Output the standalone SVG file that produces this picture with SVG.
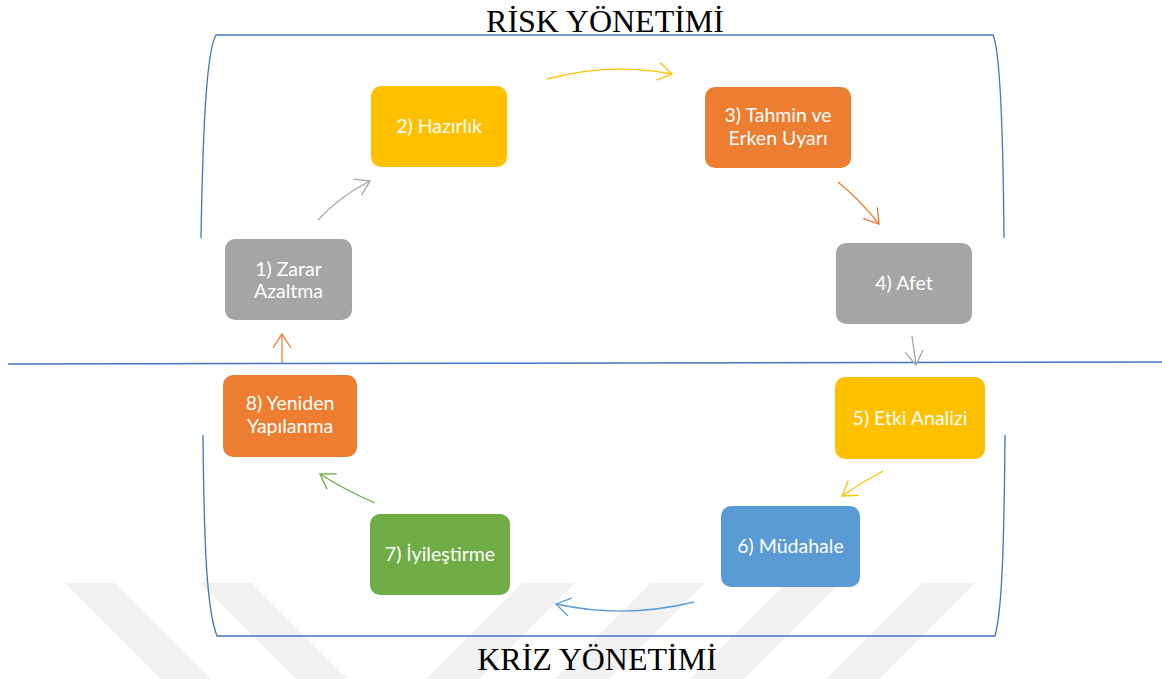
<svg xmlns="http://www.w3.org/2000/svg" width="1162" height="679" viewBox="0 0 1162 679">
<style>
.box{stroke:none}
.lbl{font-family:Lato,"Open Sans","Liberation Sans",sans-serif;font-size:19.5px;fill:#ffffff;text-anchor:middle}
.title{font-family:"Liberation Serif","Times New Roman",serif;font-size:32px;fill:#000;text-anchor:middle}
.wm{fill:#f1f1f1}
.brk{fill:none;stroke:#4472C4;stroke-width:1.3}
.arr{fill:none;stroke-width:1.3}
</style>
<defs>
<marker id="mGray" markerUnits="userSpaceOnUse" markerWidth="18" markerHeight="22" refX="14" refY="9" orient="auto" overflow="visible"><path d="M0,0 L14,9 L0,18" fill="none" stroke="#A5A5A5" stroke-width="1.3"/></marker>
<marker id="mYellow" markerUnits="userSpaceOnUse" markerWidth="18" markerHeight="22" refX="14" refY="9" orient="auto" overflow="visible"><path d="M0,0 L14,9 L0,18" fill="none" stroke="#FFC000" stroke-width="1.3"/></marker>
<marker id="mOrange" markerUnits="userSpaceOnUse" markerWidth="18" markerHeight="22" refX="14" refY="9" orient="auto" overflow="visible"><path d="M0,0 L14,9 L0,18" fill="none" stroke="#ED7D31" stroke-width="1.3"/></marker>
<marker id="mBlue" markerUnits="userSpaceOnUse" markerWidth="18" markerHeight="22" refX="14" refY="9" orient="auto" overflow="visible"><path d="M0,0 L14,9 L0,18" fill="none" stroke="#5B9BD5" stroke-width="1.3"/></marker>
<marker id="mGreen" markerUnits="userSpaceOnUse" markerWidth="18" markerHeight="22" refX="14" refY="9" orient="auto" overflow="visible"><path d="M0,0 L14,9 L0,18" fill="none" stroke="#70AD47" stroke-width="1.3"/></marker>
</defs>
<rect width="1162" height="679" fill="#ffffff"/>
<g id="watermark">
<polygon class="wm" points="65,583 115,583 211,679 161,679"/>
<polygon class="wm" points="200,583 252,583 348,679 296,679"/>
<polygon class="wm" points="522,583 575,583 479,679 426,679"/>
<polygon class="wm" points="651,583 705,583 609,679 555,679"/>
<polygon class="wm" points="786,583 840,583 744,679 690,679"/>
<polygon class="wm" points="922,583 975,583 879,679 826,679"/>
</g>
<g id="frame">
<path class="brk" d="M201,238 C203,120 207,50 216,35 L993,35 C1000,50 1003,120 1004,238"/>
<path class="brk" d="M203,435 C204,550 207,610 217,636 L995,636 C1002,610 1004,550 1005,435"/>
<line x1="8" y1="364" x2="1162" y2="362" stroke="#4472C4" stroke-width="1.5"/>
<text class="title" x="605" y="32">RİSK YÖNETİMİ</text>
<text class="title" x="597" y="670">KRİZ YÖNETİMİ</text>
</g>
<g id="connectors">
<path class="arr" stroke="#A5A5A5" marker-end="url(#mGray)" d="M318,220 Q340,196 370,181"/>
<path class="arr" stroke="#FFC000" marker-end="url(#mYellow)" d="M547,79 Q610,62 672,74"/>
<path class="arr" stroke="#ED7D31" marker-end="url(#mOrange)" d="M838,182 Q860,200 879,224"/>
<path class="arr" stroke="#A5A5A5" marker-end="url(#mGray)" d="M912,336 L916,365"/>
<path class="arr" stroke="#FFC000" marker-end="url(#mYellow)" d="M883,471 Q862,482 842,496"/>
<path class="arr" stroke="#5B9BD5" marker-end="url(#mBlue)" d="M694,602 Q625,619 556,604"/>
<path class="arr" stroke="#70AD47" marker-end="url(#mGreen)" d="M375,503 Q345,490 320,474"/>
<path class="arr" stroke="#ED7D31" marker-end="url(#mOrange)" d="M282,363 L282,334"/>
</g>
<g id="n1"><rect class="box" x="225" y="239" width="127" height="81" rx="10" fill="#A5A5A5"/><text class="lbl" x="288.5" y="276">1) Zarar</text><text class="lbl" x="288.5" y="298">Azaltma</text></g>
<g id="n2"><rect class="box" x="371" y="86" width="136" height="81" rx="10" fill="#FFC000"/><text class="lbl" x="439" y="133">2) Hazırlık</text></g>
<g id="n3"><rect class="box" x="705" y="87" width="146" height="81" rx="10" fill="#ED7D31"/><text class="lbl" x="778" y="122">3) Tahmin ve</text><text class="lbl" x="778" y="145">Erken Uyarı</text></g>
<g id="n4"><rect class="box" x="836" y="243" width="136" height="81" rx="10" fill="#A5A5A5"/><text class="lbl" x="904" y="290">4) Afet</text></g>
<g id="n5"><rect class="box" x="835" y="377" width="150" height="82" rx="10" fill="#FFC000"/><text class="lbl" x="910" y="425">5) Etki Analizi</text></g>
<g id="n6"><rect class="box" x="721" y="506" width="139" height="81" rx="10" fill="#5B9BD5"/><text class="lbl" x="790.5" y="553">6) Müdahale</text></g>
<g id="n7"><rect class="box" x="370" y="514" width="140" height="81" rx="10" fill="#70AD47"/><text class="lbl" x="440" y="561">7) İyileştirme</text></g>
<g id="n8"><rect class="box" x="223" y="375" width="134" height="82" rx="10" fill="#ED7D31"/><text class="lbl" x="290" y="410">8) Yeniden</text><text class="lbl" x="290" y="433">Yapılanma</text></g>
</svg>
